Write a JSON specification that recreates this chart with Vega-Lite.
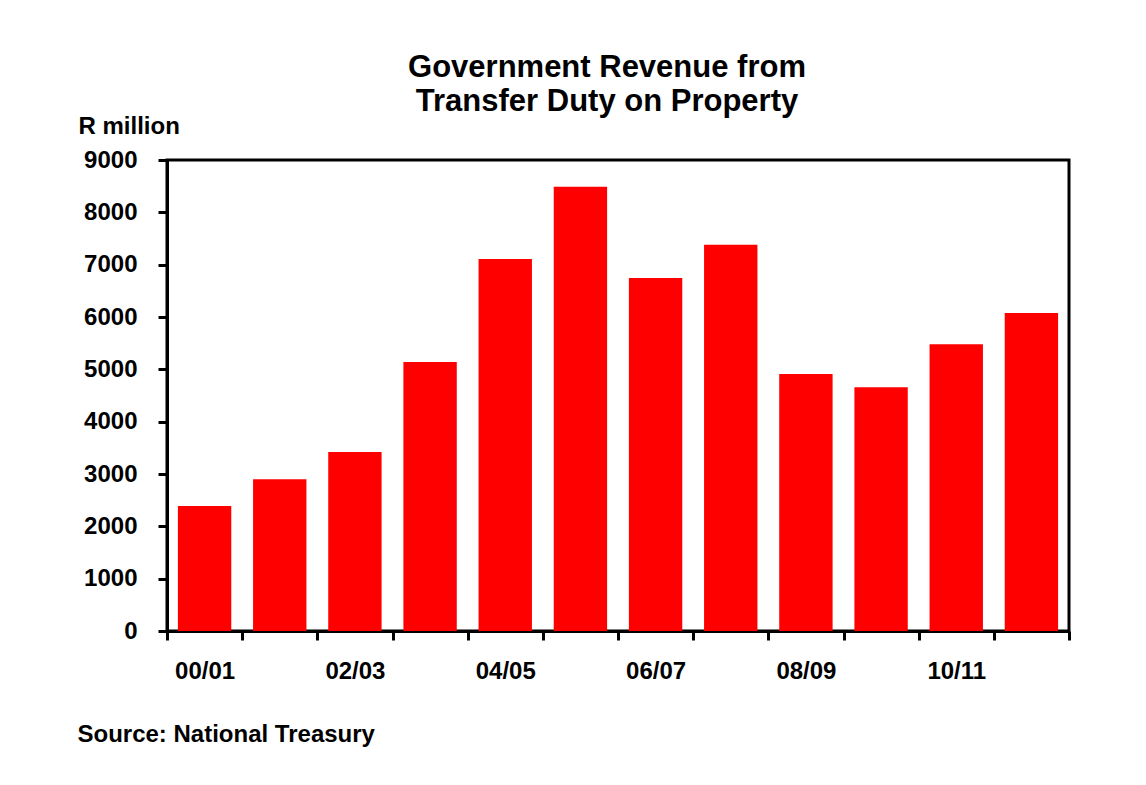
{
  "$schema": "https://vega.github.io/schema/vega-lite/v6.json",
  "autosize": {"type": "none"},
  "width": 902,
  "height": 471,
  "padding": {"left": 167, "top": 160, "right": 77, "bottom": 154},
  "background": "white",
  "title": {
    "text": ["Government Revenue from", "Transfer Duty on Property"],
    "font": "Liberation Sans",
    "fontSize": 31,
    "fontWeight": "bold",
    "color": "black",
    "lineHeight": 34,
    "offset": -4,
    "dx": -11,
    "anchor": "middle"
  },
  "config": {
    "view": {"stroke": "black", "strokeWidth": 3},
    "axis": {
      "labelFont": "Liberation Sans",
      "labelFontWeight": "bold",
      "labelColor": "black",
      "labelFontSize": 24,
      "titleFont": "Liberation Sans",
      "titleFontWeight": "bold",
      "titleColor": "black",
      "domainColor": "black",
      "domainWidth": 3,
      "tickColor": "black",
      "tickWidth": 3,
      "tickSize": 9,
      "grid": false
    }
  },
  "data": {
    "values": [
      {"year": "00/01", "revenue": 2390},
      {"year": "01/02", "revenue": 2900},
      {"year": "02/03", "revenue": 3420},
      {"year": "03/04", "revenue": 5140},
      {"year": "04/05", "revenue": 7110},
      {"year": "05/06", "revenue": 8490},
      {"year": "06/07", "revenue": 6745},
      {"year": "07/08", "revenue": 7380},
      {"year": "08/09", "revenue": 4910},
      {"year": "09/10", "revenue": 4660},
      {"year": "10/11", "revenue": 5480},
      {"year": "11/12", "revenue": 6075}
    ]
  },
  "mark": {"type": "bar", "color": "#FF0000", "width": {"band": 0.71}},
  "encoding": {
    "x": {
      "field": "year",
      "type": "ordinal",
      "scale": {"paddingInner": 0, "paddingOuter": 0},
      "axis": {
        "orient": "bottom",
        "title": "Source: National  Treasury",
        "titleFontSize": 24,
        "titleAnchor": "start",
        "titleAlign": "left",
        "titleBaseline": "alphabetic",
        "titleX": -90,
        "titleY": 110,
        "tickBand": "extent",
        "labelAngle": 0,
        "labelPadding": 19,
        "labelExpr": "(datum.value == '00/01' || datum.value == '02/03' || datum.value == '04/05' || datum.value == '06/07' || datum.value == '08/09' || datum.value == '10/11') ? datum.label : ''"
      }
    },
    "y": {
      "field": "revenue",
      "type": "quantitative",
      "scale": {"domain": [0, 9000], "nice": false},
      "axis": {
        "values": [0, 1000, 2000, 3000, 4000, 5000, 6000, 7000, 8000, 9000],
        "format": "d",
        "labelPadding": 21,
        "title": "R million",
        "titleFontSize": 24,
        "titleAngle": 0,
        "titleAlign": "left",
        "titleBaseline": "alphabetic",
        "titleX": -89,
        "titleY": -27
      }
    }
  }
}
